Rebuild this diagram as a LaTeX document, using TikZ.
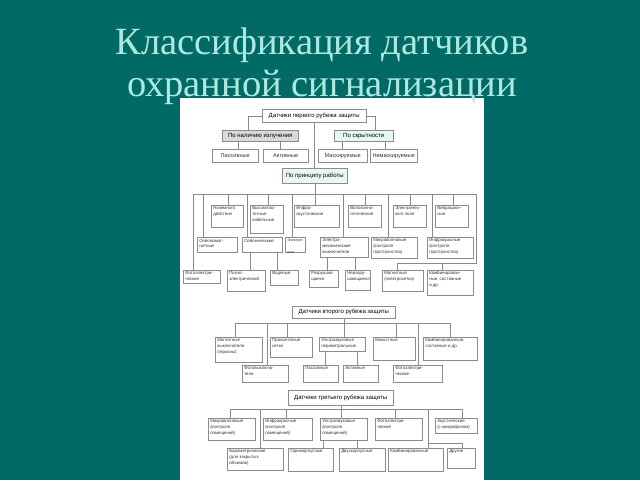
\documentclass[tikz,border=0pt]{standalone}
\usepackage{fontspec}
\setmainfont{Liberation Serif}
\newfontfamily\boxfont{Liberation Sans}
\definecolor{bg}{HTML}{026A65}
\definecolor{titlecol}{HTML}{ABE9E1}
\definecolor{boxgray}{HTML}{8C8C8C}
\definecolor{linegray}{HTML}{8A8A8A}
\definecolor{txt}{HTML}{333333}
\definecolor{graybox}{HTML}{D9D9D9}
\definecolor{cyanbox}{HTML}{E6F7F5}
\newcommand\lowfont{\boxfont\fontsize{4.4}{5.9}\selectfont}
\newcommand\hifont{\boxfont\fontsize{6}{7}\selectfont}
\newcommand\midfont{\boxfont\fontsize{5.6}{7}\selectfont}
\tikzset{
  conn/.style={draw=linegray, line width=0.5pt},
  bb/.style={draw=boxgray, line width=0.5pt, inner xsep=2pt, inner ysep=1.5pt, text=txt, font=\lowfont},
  hb/.style={bb, font=\hifont, text=black},
  mb/.style={bb, font=\midfont},
  gb/.style={hb, fill=graybox},
  cb/.style={hb, fill=cyanbox},
  title/.style={font=\fontsize{38.5}{40}\selectfont, text=titlecol, anchor=base, inner sep=0pt},
}
% \bx[vpos]{name}{x1}{y1}{x2}{y2}{style}{text}
\newcommand\bx[8][t]{\node[#7,anchor=north west] (#2) at (#3,#4) {\parbox[c][\dimexpr #6pt-#4pt-3pt\relax][#1]{\dimexpr #5pt-#3pt-4pt\relax}{#8}};}
\newcommand\dropto[3]{\coordinate (#1) at #2; \draw[conn] (#1) -- (#1 |- #3.north);}
\begin{document}
\begin{tikzpicture}[x=1pt,y=-1pt]
\useasboundingbox (0,0) rectangle (640,480);
\fill[bg] (0,0) rectangle (640,480);
\fill[white] (180,98) rectangle (484,480);
\node[title] (t1) at (322,54) {Классификация датчиков};
\node[title] (t2) at (322,96) {охранной сигнализации};

% ---------- first line ----------
\bx[c]{top1}{262}{109}{366}{122}{hb}{\centering Датчики первого рубежа защиты}
\bx[c]{nal}{222}{130}{298}{141}{gb}{\centering По наличию излучения}
\bx[c]{skr}{334}{130}{393}{141}{cb}{\centering По скрытности}
\bx[c]{pas1}{212}{149}{258}{162}{mb}{\centering Пассивные}
\bx[c]{akt1}{263}{149}{308}{162}{mb}{\centering Активные}
\bx[c]{mask}{318}{149}{367}{162}{mb}{\centering Маскируемые}
\bx[c]{nemask}{370}{149}{417}{162}{mb}{\centering Немаскируемые}
\bx[c]{prin}{282}{168}{347}{183}{cb}{\centering По принципу работы}

\bx{naz}{211}{205}{243}{227}{bb}{\raggedright Наземного\\действия}
\bx{vys}{250}{205}{283}{233}{bb}{\raggedright Высокочас-\\тотные\\кабельные}
\bx{infa}{294}{205}{339}{227}{bb}{\raggedright Инфра-\\акустические}
\bx{volo}{348}{205}{381}{227}{bb}{\raggedright Волоконно-\\оптические}
\bx{elp}{393}{205}{426}{227}{bb}{\raggedright Электричес-\\кого поля}
\bx{vib}{435}{205}{468}{227}{bb}{\raggedright Вибрацион-\\ные}

\bx{sm}{197}{237}{237}{252}{bb}{\raggedright Сейсмомаг-\\нитные}
\bx{sei}{242}{237}{282}{252}{bb}{\raggedright Сейсмические}
\bx{elt}{285}{237}{305}{252}{bb,font=\boxfont\fontsize{3.6}{5.9}\selectfont}{\raggedright Электрет-\\ные}
\bx{elm}{320}{237}{368}{257}{bb}{\raggedright Электро-\\механические\\выключатели}
\bx{mic}{371}{237}{417}{258}{bb}{\raggedright Микроволновые\\(контроля\\пространства)}
\bx{ik}{427}{237}{473}{258}{bb}{\raggedright Инфракрасные\\(контроля\\пространства)}

\bx{foto1}{183}{270}{220}{283}{bb}{\raggedright Фотоэлектри-\\ческие}
\bx{pie}{227}{270}{265}{291}{bb}{\raggedright Пьезо-\\электрический}
\bx{vod}{270}{270}{298}{285}{bb}{\raggedright Водяные}
\bx{raz}{309}{270}{338}{287}{bb}{\raggedright Разрушаю-\\щиеся}
\bx{nraz}{345}{270}{370}{290}{bb}{\raggedright Неразру-\\шающиеся}
\bx{mag}{382}{270}{423}{291}{bb}{\raggedright Магнитные\\(электросетка)}
\bx{komb1}{427}{270}{473}{295}{bb}{\raggedright Комбинирован-\\ные, составные\\и др.}

% connectors, first line
\coordinate (na) at ([xshift=26pt]nal.north west);
\draw[conn] (top1.west) -| (na);
\coordinate (sa) at ([xshift=41pt]skr.north west);
\draw[conn] (top1.east) -| (sa);
\draw[conn] (top1.south) -- (top1.south |- prin.north);
\coordinate (n1) at ([xshift=16pt]nal.south west);
\draw[conn] (n1) -- (n1 |- pas1.north);
\coordinate (n2) at ([xshift=58pt]nal.south west);
\draw[conn] (n2) -- (n2 |- akt1.north);
\coordinate (s1) at ([xshift=8pt]skr.south west);
\draw[conn] (s1) -- (s1 |- mask.north);
\coordinate (s2) at ([xshift=51pt]skr.south west);
\draw[conn] (s2) -- (s2 |- nemask.north);

\coordinate (busL) at (193,194);
\coordinate (busR) at (476,194);
\draw[conn] (busL) -- (busR);
\draw[conn] (prin.south) -- (prin.south |- infa.north);
\dropto{dfoto}{(193,194)}{foto1}
\dropto{dsm}{(203,194)}{sm}
\dropto{dnaz}{(228,194)}{naz}
\dropto{dsei}{(247,194)}{sei}
\dropto{dvys}{(268,194)}{vys}
\dropto{delt}{(292,194)}{elt}
\dropto{delm}{(343,194)}{elm}
\dropto{dvolo}{(365,194)}{volo}
\dropto{dmic}{(388,194)}{mic}
\dropto{delp}{(410,194)}{elp}
\dropto{dik}{(432,194)}{ik}
\dropto{dvib}{(453,194)}{vib}
\coordinate (mg) at (397,263);
\coordinate (kb) at (442,263);
\draw[conn] (busR) |- (mg) -- (mg |- mag.north);
\draw[conn] (kb) -- (kb |- komb1.north);
\coordinate (e1) at ([xshift=8pt]sei.south west);
\draw[conn] (e1) -- (e1 |- pie.north);
\coordinate (e2) at ([xshift=35pt]sei.south west);
\draw[conn] (e2) -- (e2 |- vod.north);
\coordinate (m1) at ([xshift=7pt]elm.south west);
\draw[conn] (m1) -- (m1 |- raz.north);
\coordinate (m2) at ([xshift=35pt]elm.south west);
\draw[conn] (m2) -- (m2 |- nraz.north);

% ---------- second line ----------
\bx[c]{top2}{292}{306}{395}{318}{hb}{\centering Датчики второго рубежа защиты}
\bx{mv}{215}{337}{262}{362}{bb}{\raggedright Магнитные\\выключатели\\(герконы)}
\bx{pro}{270}{337}{312}{357}{bb}{\raggedright Проволочные\\сетки}
\bx{us}{319}{337}{365}{351}{bb}{\raggedright Ультразвуковые\\периметральные}
\bx{emk}{373}{337}{415}{360}{bb}{\raggedright Емкостные}
\bx{komb2}{423}{337}{477}{360}{bb}{\raggedright Комбинированные,\\составные и др.}
\bx{fv}{242}{365}{288}{382}{bb}{\raggedright Фотовыключа-\\тели}
\bx{pas2}{303}{365}{338}{382}{bb}{\raggedright Пассивные}
\bx{akt2}{343}{365}{378}{382}{bb}{\raggedright Активные}
\bx{fe2}{393}{365}{442}{382}{bb}{\raggedright Фотоэлектри-\\ческие}

\coordinate (b2L) at (235,323);
\coordinate (b2R) at (450,323);
\draw[conn] (b2L) -- (b2R);
\draw[conn] (top2.south) -- (top2.south |- us.north);
\dropto{dmv}{(235,323)}{mv}
\dropto{dfv}{(267,323)}{fv}
\dropto{dpro}{(287,323)}{pro}
\dropto{demk}{(396,323)}{emk}
\dropto{dfe2}{(418,323)}{fe2}
\dropto{dkomb2}{(450,323)}{komb2}
\coordinate (u1) at ([xshift=6pt]us.south west);
\draw[conn] (u1) -- (u1 |- pas2.north);
\coordinate (u2) at ([xshift=38pt]us.south west);
\draw[conn] (u2) -- (u2 |- akt2.north);

% ---------- third line ----------
\bx[c]{top3}{288}{390}{393}{405}{hb}{\centering Датчики третьего рубежа защиты}
\bx{mw3}{208}{418}{255}{440}{bb}{\raggedright Микроволновые\\(контроля\\помещений)}
\bx{ik3}{263}{418}{312}{440}{bb}{\raggedright Инфракрасные\\(контроля\\помещений)}
\bx{us3}{320}{418}{367}{440}{bb}{\raggedright Ультразвуковые\\(контроля\\помещений)}
\bx{fe3}{375}{418}{422}{440}{bb}{\raggedright Фотоэлектри-\\ческие}
\bx{ak}{435}{418}{477}{433}{bb}{\raggedright Акустические\\(с микрофоном)}
\bx{baro}{227}{448}{283}{470}{bb}{\raggedright Барометрические\\(для закрытых\\объемов)}
\bx{odn}{288}{448}{333}{471}{bb}{\raggedright Однокорпусные}
\bx{dvu}{339}{448}{385}{471}{bb}{\raggedright Двухкорпусные}
\bx{komb3}{388}{448}{443}{471}{bb}{\raggedright Комбинированные}
\bx{drug}{447}{448}{475}{468}{bb}{\raggedright Другие}

\coordinate (b3L) at (230,409);
\coordinate (b3R) at (462,409);
\draw[conn] (b3L) -- (b3R);
\draw[conn] (top3.south) -- (top3.south |- us3.north);
\dropto{dmw3}{(230,409)}{mw3}
\dropto{dbaro}{(260,409)}{baro}
\dropto{dik3}{(286,409)}{ik3}
\dropto{dfe3}{(395,409)}{fe3}
\dropto{dkomb3}{(428,409)}{komb3}
\dropto{dak}{(462,409)}{ak}
\coordinate (br) at (428,443);
\coordinate (dr) at (462,443);
\draw[conn] (br) -- (dr) -- (dr |- drug.north);
\coordinate (v1) at ([xshift=3pt]us3.south west);
\draw[conn] (v1) -- (v1 |- odn.north);
\coordinate (v2) at ([xshift=37pt]us3.south west);
\draw[conn] (v2) -- (v2 |- dvu.north);
\end{tikzpicture}
\end{document}
